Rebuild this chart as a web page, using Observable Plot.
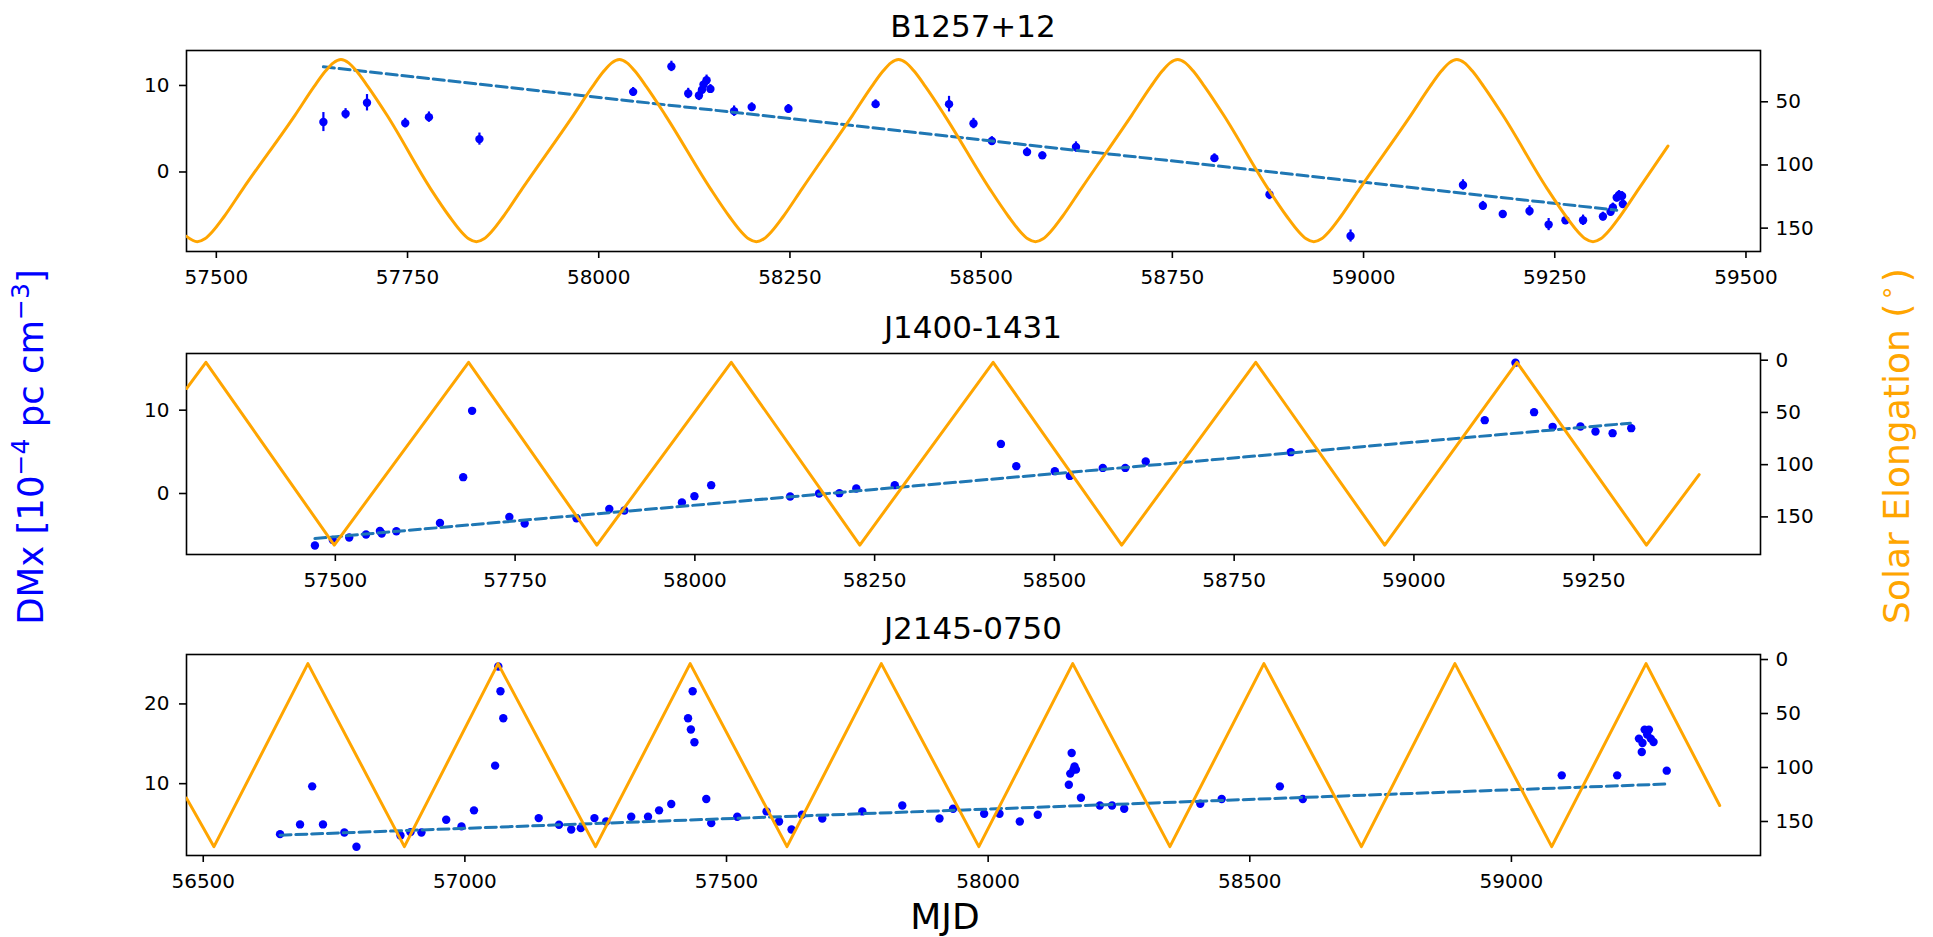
<!DOCTYPE html>
<html><head><meta charset="utf-8">
<script src="https://cdn.jsdelivr.net/npm/d3@7"></script>
<script src="https://cdn.jsdelivr.net/npm/@observablehq/plot@0.6"></script>
<style>
body{margin:0;background:#fff}
#fig{position:relative;width:1933px;height:937px;overflow:hidden;background:#fff;font-family:"DejaVu Sans"}
#fig svg{position:absolute;left:0}
</style>
</head><body><div id="fig"></div>
<script>
// ---------- data ----------
const titles = ["B1257+12", "J1400-1431", "J2145-0750"];

const b1257_mjd = [57640,57669,57697,57747,57778,57844,58045,58095,58117,58131,58135,58137,58141,58146,58177,58200,58248,58362,58458,58490,58514,58560,58580,58624,58805,58877,58983,59130,59156,59182,59217,59242,59264,59287,59313,59323,59326,59331,59334,59338,59339];
const b1257_dmx = [5.77,6.72,8.0,5.65,6.34,3.8,9.26,12.2,9.07,8.85,9.5,10.1,10.6,9.6,7.03,7.5,7.3,7.84,7.84,5.6,3.58,2.3,1.92,2.88,1.6,-2.6,-7.4,-1.5,-3.9,-4.85,-4.5,-6.08,-5.58,-5.58,-5.15,-4.6,-4.1,-2.96,-2.65,-2.77,-3.7];
const b1257_err = [1.1,0.6,0.95,0.55,0.6,0.7,0.5,0.6,0.6,0.6,0.5,0.5,0.6,0.5,0.6,0.5,0.5,0.5,0.9,0.6,0.5,0.5,0.4,0.6,0.5,0.6,0.7,0.6,0.5,0.4,0.6,0.7,0.5,0.6,0.5,0.5,0.5,0.5,0.5,0.5,0.5];

const j1400_mjd = [57471.6,57496.5,57519.3,57542.7,57562,57564.5,57584.9,57645.5,57677.8,57690.2,57742,57763.3,57835.4,57881,57902,57982,57999.4,58022.7,58132.5,58172.7,58201,58224.5,58278,58425.6,58447,58500.6,58521.5,58567.3,58598.6,58627,58828.7,59098.5,59141.2,59167.1,59192.9,59231.6,59252.5,59276.3,59302.2];
const j1400_dmx = [-6.24,-5.57,-5.28,-4.92,-4.49,-4.8,-4.53,-3.53,1.96,9.92,-2.81,-3.6,-2.97,-1.85,-2.04,-1.08,-0.32,1.0,-0.36,0.0,0.04,0.6,1.0,5.95,3.28,2.68,2.11,3.07,3.07,3.84,4.96,8.8,15.7,9.76,8.0,8.04,7.44,7.24,7.84];

const j2145_mjd = [56646.8,56685,56708.2,56728.8,56769.7,56792.8,56876.9,56896,56917,56964.3,56993.5,57017.4,57057.8,57063.9,57068,57073.4,57141.1,57179.9,57203.2,57221.6,57247.6,57270.1,57317.9,57350,57371.1,57394.4,57426.5,57431.9,57435.3,57438.7,57461.3,57470.8,57520.5,57576.5,57600.4,57624.3,57644.2,57683,57759.5,57835.9,57907,57933,57992.3,58021.7,58060.5,58094.8,58154.2,58159.6,58156.9,58163,58167.8,58165.1,58177.3,58213.5,58236.8,58260,58405.4,58446.3,58557.5,58601.3,59096.2,59202.1,59243.7,59249.1,59250.5,59254.6,59262.8,59259.4,59266.3,59271.6,59296.8];
const j2145_dmx = [3.67,4.89,9.66,4.89,3.88,2.08,3.5,3.92,3.88,5.48,4.64,6.65,12.26,24.7,21.6,18.2,5.68,4.85,4.26,4.42,5.68,5.26,5.85,5.85,6.65,7.44,18.2,16.8,21.6,15.2,8.07,5.05,5.85,6.52,5.26,4.26,6.1,5.64,6.52,7.27,5.64,6.86,6.23,6.23,5.26,6.1,9.87,13.84,11.26,11.76,11.76,12.17,8.24,7.27,7.27,6.86,7.49,8.07,9.66,8.07,11.04,11.04,15.65,13.97,15.1,16.78,16.78,16.16,15.65,15.23,11.63];

// linear DMx trends (end points)
const b1257_trend_mjd = [57640, 59331];
const b1257_trend_dmx = [12.15, -4.42];
const j1400_trend_mjd = [57471.6, 59301];
const j1400_trend_dmx = [-5.4, 8.44];
const j2145_trend_mjd = [56646.8, 59294.9];
const j2145_trend_dmx = [3.54, 9.95];

// solar elongation curves (vertices)
const b1257_elong_mjd = [57461,
  57475,57485,57495,57510,57535,
  57603,57628,57643,57653,57663,57673,57683,57698,57723,
  57780,57805,57820,57830,57840,57850,57860,57875,57900,
  57967,57992,58007,58017,58027,58037,58047,58062,58087,
  58146,58171,58186,58196,58206,58216,58226,58241,58266,
  58332,58357,58372,58382,58392,58402,58412,58427,58452,
  58511,58536,58551,58561,58571,58581,58591,58606,58631,
  58697,58722,58737,58747,58757,58767,58777,58792,58817,
  58875,58900,58915,58925,58935,58945,58955,58970,58995,
  59062,59087,59102,59112,59122,59132,59142,59157,59182,
  59240,59265,59280,59290,59300,59310,59320,59335,59360,
  59398];
const b1257_elong_deg = [156.5,
  160.8,158.5,152.7,141,118.7,
  60.5,37.8,25.5,19.2,16.6,19.2,25.5,37.8,60.5,
  118.7,141,152.7,158.5,160.8,158.5,152.7,141,118.7,
  60.5,37.8,25.5,19.2,16.6,19.2,25.5,37.8,60.5,
  118.7,141,152.7,158.5,160.8,158.5,152.7,141,118.7,
  60.5,37.8,25.5,19.2,16.6,19.2,25.5,37.8,60.5,
  118.7,141,152.7,158.5,160.8,158.5,152.7,141,118.7,
  60.5,37.8,25.5,19.2,16.6,19.2,25.5,37.8,60.5,
  118.7,141,152.7,158.5,160.8,158.5,152.7,141,118.7,
  60.5,37.8,25.5,19.2,16.6,19.2,25.5,37.8,60.5,
  118.7,141,152.7,158.5,160.8,158.5,152.7,141,118.7,
  85];
const j1400_elong_mjd = [57293,57320,57498.5,57685.3,57863.7,58050.6,58229.4,58414.8,58593.6,58780,58959.4,59143.2,59323.4,59396.7];
const j1400_elong_deg = [27.1,2,177,2,177,2,177,2,177,2,177,2,177,109.5];
const j2145_elong_mjd = [56468,56520.5,56700,56884.4,57063.3,57249.7,57430.5,57615.6,57795.8,57982.2,58161.6,58347.3,58527,58713.3,58892,59077,59257.3,59398];
const j2145_elong_deg = [128.4,173.3,3.8,173.3,3.8,173.3,3.8,173.3,3.8,173.3,3.8,173.3,3.8,173.3,3.8,173.3,3.8,135.2];

// axis ticks
const b1257_xticks = [57500,57750,58000,58250,58500,58750,59000,59250,59500];
const j1400_xticks = [57500,57750,58000,58250,58500,58750,59000,59250];
const j2145_xticks = [56500,57000,57500,58000,58500,59000];
const b1257_yticks = [0, 10];
const j1400_yticks = [0, 10];
const j2145_yticks = [10, 20];
const b1257_eticks = [50, 100, 150];
const j1400_eticks = [0, 50, 100, 150];
const j2145_eticks = [0, 50, 100, 150];

// scale domains (axis limits)
const b1257_xdom = [57461, 59519]; const b1257_ydom = [-9.19, 14.04]; const b1257_edom = [9.4, 168.5];
const j1400_xdom = [57293, 59482]; const j1400_ydom = [-7.32, 16.8];  const j1400_edom = [-6.4, 186];
const j2145_xdom = [56468, 59476]; const j2145_ydom = [0.99, 26.2];   const j2145_edom = [-4.64, 181.5];

// ---------- layout ----------
const W = 1933, ML = 186, MR = 173, MT = 40, MB = 50, FH = 201;
const frameTops = [49.5, 352.5, 653.5];
const titleBase = [36.7, 338.3, 639.3];

const zipPts = (xs, ys, es) => xs.map((x, i) => ({x, y: ys[i], e: es ? es[i] : 0}));

const panels = [
  {pts: zipPts(b1257_mjd, b1257_dmx, b1257_err), err: true, trend: zipPts(b1257_trend_mjd, b1257_trend_dmx), elong: zipPts(b1257_elong_mjd, b1257_elong_deg), curve: "monotone-x",
   xt: b1257_xticks, yt: b1257_yticks, et: b1257_eticks, xd: b1257_xdom, yd: b1257_ydom, ed: b1257_edom},
  {pts: zipPts(j1400_mjd, j1400_dmx), err: false, trend: zipPts(j1400_trend_mjd, j1400_trend_dmx), elong: zipPts(j1400_elong_mjd, j1400_elong_deg), curve: "linear",
   xt: j1400_xticks, yt: j1400_yticks, et: j1400_eticks, xd: j1400_xdom, yd: j1400_ydom, ed: j1400_edom},
  {pts: zipPts(j2145_mjd, j2145_dmx), err: false, trend: zipPts(j2145_trend_mjd, j2145_trend_dmx), elong: zipPts(j2145_elong_mjd, j2145_elong_deg), curve: "linear",
   xt: j2145_xticks, yt: j2145_yticks, et: j2145_eticks, xd: j2145_xdom, yd: j2145_ydom, ed: j2145_edom}
];

const fig = document.getElementById("fig");
const baseStyle = {fontFamily: "DejaVu Sans", fontSize: "20px", background: "transparent", color: "black", overflow: "visible"};

panels.forEach((p, i) => {
  const marks = [
    Plot.axisX(p.xt, {anchor: "bottom", tickSize: 7, tickPadding: 11, tickFormat: "d", strokeWidth: 1.6, fontSize: 20, label: null}),
    Plot.axisY(p.yt, {anchor: "left", tickSize: 7, tickPadding: 10, tickFormat: "d", strokeWidth: 1.6, fontSize: 20, label: null})
  ];
  if (p.err) marks.push(Plot.ruleX(p.pts, {x: "x", y1: d => d.y - d.e, y2: d => d.y + d.e, stroke: "blue", strokeWidth: 2.2}));
  marks.push(Plot.dot(p.pts, {x: "x", y: "y", r: 4.2, fill: "blue", stroke: "none"}));
  marks.push(Plot.line(p.trend, {x: "x", y: "y", stroke: "#1f77b4", strokeWidth: 3, strokeDasharray: "11,4.8"}));
  marks.push(Plot.frame({stroke: "black", strokeWidth: 1.6}));
  const left = Plot.plot({
    width: W, height: MT + FH + MB, marginTop: MT, marginBottom: MB, marginLeft: ML, marginRight: MR,
    style: baseStyle,
    x: {domain: p.xd},
    y: {domain: p.yd},
    marks
  });
  left.style.top = (frameTops[i] - MT) + "px";
  fig.appendChild(left);

  const right = Plot.plot({
    width: W, height: MT + FH + MB, marginTop: MT, marginBottom: MB, marginLeft: ML, marginRight: MR,
    style: baseStyle,
    x: {domain: p.xd, axis: null},
    y: {domain: p.ed, reverse: true},
    marks: [
      Plot.axisY(p.et, {anchor: "right", tickSize: 7, tickPadding: 8, tickFormat: "d", strokeWidth: 1.6, fontSize: 20, label: null}),
      Plot.line(p.elong, {x: "x", y: "y", stroke: "orange", strokeWidth: 3, curve: p.curve, clip: true})
    ]
  });
  right.style.top = (frameTops[i] - MT) + "px";
  fig.appendChild(right);
});

// ---------- text labels ----------
const svg = d3.create("svg").attr("width", W).attr("height", 937)
  .style("top", "0px").style("pointer-events", "none")
  .attr("font-family", "DejaVu Sans");
titles.forEach((t, i) => {
  svg.append("text").attr("x", (ML + W - MR) / 2).attr("y", titleBase[i])
    .attr("text-anchor", "middle").attr("font-size", 31).attr("fill", "black").text(t);
});
svg.append("text").attr("x", 945).attr("y", 929)
  .attr("text-anchor", "middle").attr("font-size", 36).attr("fill", "black").text("MJD");

const yl = svg.append("text").attr("transform", "translate(43.3,447) rotate(-90)")
  .attr("text-anchor", "middle").attr("font-size", 35.5).attr("fill", "blue");
yl.append("tspan").text("DMx [10");
yl.append("tspan").attr("font-size", 25).attr("dy", -14).text("\u22124");
yl.append("tspan").attr("dy", 14).text(" pc cm");
yl.append("tspan").attr("font-size", 25).attr("dy", -14).text("\u22123");
yl.append("tspan").attr("dy", 14).text("]");

const yr = svg.append("text").attr("transform", "translate(1909,446) rotate(-90)")
  .attr("text-anchor", "middle").attr("font-size", 36).attr("fill", "orange");
yr.append("tspan").text("Solar Elongation (");
yr.append("tspan").attr("font-size", 25).attr("dy", -14).attr("dx", 3).text("\u2218");
yr.append("tspan").attr("dy", 14).attr("dx", 3).text(")");

fig.appendChild(svg.node());
</script>
</body></html>
